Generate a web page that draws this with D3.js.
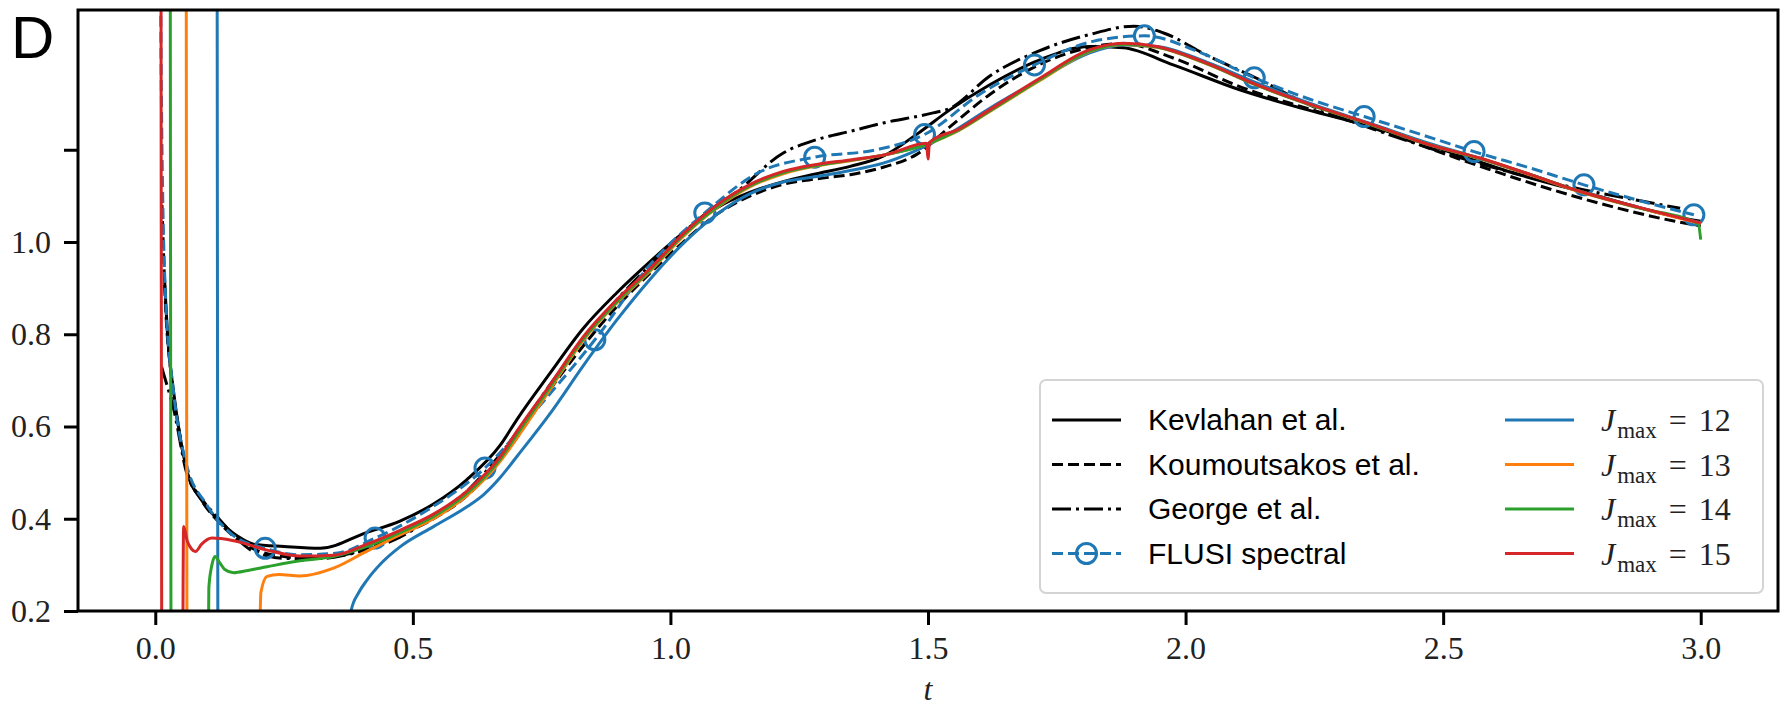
<!DOCTYPE html>
<html>
<head>
<meta charset="utf-8">
<script src="https://cdn.jsdelivr.net/npm/d3@7/dist/d3.min.js"></script>
<style>
  body { margin: 0; background: #fff; }
  svg { display: block; }
</style>
</head>
<body>
<svg id="chart"></svg>
<script>
var width = 1781,
    height = 707;

// reference curves (t, value)
var kevlahan = [[0.018, 0.92], [0.025, 0.78], [0.035, 0.68], [0.045, 0.6], [0.061, 0.506], [0.090, 0.44], [0.126, 0.394], [0.160, 0.362], [0.191, 0.345], [0.250, 0.340], [0.320, 0.336], [0.410, 0.37], [0.475, 0.395], [0.540, 0.432], [0.605, 0.485], [0.670, 0.56], [0.702, 0.615], [0.766, 0.715], [0.831, 0.813], [0.896, 0.89], [0.961, 0.958], [1.025, 1.02], [1.090, 1.074], [1.155, 1.108], [1.219, 1.131], [1.284, 1.148], [1.349, 1.164], [1.413, 1.186], [1.480, 1.235], [1.543, 1.287], [1.620, 1.341], [1.717, 1.395], [1.814, 1.424], [1.879, 1.421], [1.976, 1.384], [2.105, 1.33], [2.235, 1.287], [2.364, 1.249], [2.526, 1.19], [2.650, 1.145], [2.800, 1.1], [2.950, 1.055], [3.000, 1.045]];

var koumoutsakos = [[0.013, 1.08], [0.020, 0.86], [0.030, 0.72], [0.045, 0.6], [0.060, 0.51], [0.090, 0.44], [0.126, 0.39], [0.160, 0.355], [0.200, 0.33], [0.250, 0.318], [0.300, 0.314], [0.350, 0.318], [0.411, 0.336], [0.475, 0.365], [0.540, 0.4], [0.605, 0.45], [0.670, 0.528], [0.766, 0.68], [0.831, 0.775], [0.896, 0.86], [0.961, 0.933], [1.025, 1.0], [1.090, 1.06], [1.155, 1.1], [1.219, 1.125], [1.284, 1.137], [1.349, 1.146], [1.413, 1.162], [1.478, 1.19], [1.543, 1.25], [1.620, 1.32], [1.717, 1.385], [1.814, 1.422], [1.879, 1.43], [1.976, 1.399], [2.105, 1.337], [2.235, 1.29], [2.364, 1.247], [2.526, 1.182], [2.650, 1.135], [2.800, 1.085], [2.950, 1.045], [3.000, 1.035]];

var george = [[0.012, 0.73], [0.020, 0.7], [0.036, 0.636], [0.061, 0.499], [0.087, 0.448], [0.126, 0.397], [0.160, 0.355], [0.191, 0.329], [0.256, 0.314], [0.320, 0.314], [0.400, 0.33], [0.475, 0.36], [0.540, 0.405], [0.605, 0.46], [0.670, 0.54], [0.766, 0.69], [0.831, 0.79], [0.896, 0.875], [0.961, 0.95], [1.025, 1.02], [1.090, 1.08], [1.123, 1.104], [1.219, 1.193], [1.284, 1.222], [1.349, 1.24], [1.413, 1.258], [1.510, 1.28], [1.543, 1.29], [1.620, 1.36], [1.717, 1.415], [1.814, 1.45], [1.900, 1.468], [1.960, 1.452], [2.041, 1.405], [2.138, 1.355], [2.235, 1.3], [2.364, 1.245], [2.470, 1.205], [2.571, 1.17], [2.670, 1.14], [2.765, 1.115], [2.880, 1.09], [2.960, 1.073]];

// third entry = 1 where a circle marker sits
var flusi = [[0.0, 6.0, 1], [0.012, 1.3], [0.020, 0.88], [0.035, 0.68], [0.060, 0.52], [0.100, 0.43], [0.150, 0.365], [0.2133, 0.336, 1], [0.280, 0.322], [0.350, 0.325], [0.4267, 0.358, 1], [0.530, 0.42], [0.640, 0.51, 1], [0.750, 0.65], [0.8533, 0.788, 1], [0.960, 0.95], [1.0667, 1.063, 1], [1.170, 1.15], [1.280, 1.184, 1], [1.400, 1.20], [1.4933, 1.233, 1], [1.600, 1.32], [1.7067, 1.384, 1], [1.820, 1.435], [1.920, 1.447, 1], [2.030, 1.41], [2.1333, 1.356, 1], [2.240, 1.31], [2.3467, 1.272, 1], [2.460, 1.232], [2.560, 1.196, 1], [2.670, 1.16], [2.7733, 1.124, 1], [2.880, 1.09], [2.9867, 1.059, 1]];

var jmax12 = [[0.119, 3.0], [0.123, -0.5], [0.373, -0.5], [0.380, 0.2], [0.395, 0.24], [0.411, 0.267], [0.440, 0.305], [0.475, 0.339], [0.540, 0.383], [0.605, 0.426], [0.637, 0.452], [0.670, 0.49], [0.702, 0.535], [0.767, 0.629], [0.831, 0.732], [0.896, 0.831], [0.961, 0.92], [1.025, 0.997], [1.090, 1.06], [1.155, 1.105], [1.219, 1.13], [1.284, 1.142], [1.349, 1.155], [1.413, 1.171], [1.470, 1.195], [1.543, 1.236], [1.620, 1.29], [1.717, 1.352], [1.814, 1.41], [1.879, 1.427], [1.944, 1.424], [2.041, 1.39], [2.138, 1.345], [2.235, 1.303], [2.364, 1.255], [2.470, 1.215], [2.571, 1.182], [2.670, 1.146], [2.765, 1.11], [2.880, 1.075], [3.000, 1.042]];

var jmax13 = [[0.059, 3.0], [0.063, -0.5], [0.195, -0.5], [0.205, 0.24], [0.217, 0.275], [0.240, 0.279], [0.281, 0.276], [0.346, 0.293], [0.411, 0.33], [0.475, 0.365], [0.540, 0.40], [0.605, 0.45], [0.670, 0.525], [0.702, 0.575], [0.766, 0.68], [0.831, 0.787], [0.896, 0.868], [0.961, 0.937], [1.025, 1.012], [1.090, 1.074], [1.155, 1.12], [1.219, 1.148], [1.284, 1.165], [1.349, 1.176], [1.420, 1.19], [1.497, 1.212], [1.560, 1.242], [1.620, 1.283], [1.717, 1.35], [1.814, 1.413], [1.879, 1.428], [1.944, 1.422], [2.041, 1.386], [2.138, 1.34], [2.235, 1.3], [2.364, 1.253], [2.470, 1.212], [2.571, 1.181], [2.670, 1.145], [2.765, 1.109], [2.880, 1.074], [3.000, 1.04]];

var jmax14 = [[0.028, 3.0], [0.032, -0.5], [0.098, -0.5], [0.104, 0.25], [0.110, 0.3], [0.116, 0.318], [0.125, 0.305], [0.135, 0.29], [0.152, 0.283], [0.180, 0.288], [0.217, 0.296], [0.281, 0.309], [0.346, 0.318], [0.411, 0.34], [0.475, 0.37], [0.540, 0.405], [0.605, 0.455], [0.670, 0.53], [0.702, 0.583], [0.766, 0.685], [0.831, 0.79], [0.896, 0.87], [0.961, 0.94], [1.025, 1.015], [1.090, 1.076], [1.155, 1.122], [1.219, 1.15], [1.284, 1.166], [1.349, 1.177], [1.420, 1.19], [1.497, 1.212], [1.560, 1.243], [1.620, 1.284], [1.717, 1.352], [1.814, 1.414], [1.879, 1.429], [1.944, 1.423], [2.041, 1.387], [2.138, 1.34], [2.235, 1.3], [2.364, 1.253], [2.470, 1.212], [2.571, 1.181], [2.670, 1.146], [2.765, 1.11], [2.880, 1.074], [2.995, 1.04], [3.000, 1.005]];

var jmax15 = [[0.010, 3.0], [0.014, -0.5], [0.051, -0.5], [0.055, 0.383], [0.062, 0.352], [0.070, 0.335], [0.078, 0.329], [0.090, 0.345], [0.110, 0.358], [0.150, 0.353], [0.217, 0.332], [0.281, 0.319], [0.346, 0.321], [0.411, 0.345], [0.475, 0.375], [0.540, 0.41], [0.605, 0.46], [0.670, 0.535], [0.702, 0.59], [0.766, 0.69], [0.831, 0.795], [0.896, 0.875], [0.961, 0.943], [1.025, 1.018], [1.090, 1.08], [1.155, 1.125], [1.219, 1.153], [1.284, 1.168], [1.349, 1.178], [1.420, 1.19], [1.497, 1.214], [1.500, 1.18], [1.503, 1.216], [1.560, 1.245], [1.620, 1.287], [1.717, 1.355], [1.814, 1.417], [1.879, 1.431], [1.944, 1.424], [2.041, 1.388], [2.138, 1.341], [2.235, 1.301], [2.364, 1.254], [2.470, 1.212], [2.571, 1.182], [2.670, 1.146], [2.765, 1.11], [2.880, 1.075], [3.000, 1.041]];

var xTicks = [0.0, 0.5, 1.0, 1.5, 2.0, 2.5, 3.0];
var yTicks = [0.2, 0.4, 0.6, 0.8, 1.0, 1.2];
var yTickLabels = ['0.2', '0.4', '0.6', '0.8', '1.0', ''];
var labelsLeft = ['Kevlahan et al.', 'Koumoutsakos et al.', 'George et al.', 'FLUSI spectral'];
var labelsRight = ['12', '13', '14', '15'];

var series = [
    { data: kevlahan, color: '#000', dash: null },
    { data: koumoutsakos, color: '#000', dash: '11,5' },
    { data: george, color: '#000', dash: '19,5,3,5' },
    { data: flusi, color: '#1f77b4', dash: '11,5', markers: true },
    { data: jmax12, color: '#1f77b4', dash: null },
    { data: jmax13, color: '#ff7f0e', dash: null },
    { data: jmax14, color: '#2ca02c', dash: null },
    { data: jmax15, color: '#d62728', dash: null }
];

var plot = { left: 78, right: 1778, top: 10, bottom: 611 };

var x = d3.scaleLinear().domain([-0.15, 3.15]).range([plot.left, plot.right]);
var y = d3.scaleLinear().domain([0.2, 1.503]).range([plot.bottom, plot.top]);

var svg = d3.select('#chart')
    .attr('width', width)
    .attr('height', height)
    .style('font-family', 'Liberation Serif, serif');

svg.append('rect').attr('width', width).attr('height', height).attr('fill', '#fff');

svg.append('clipPath').attr('id', 'clip')
    .append('rect')
    .attr('x', plot.left).attr('y', plot.top)
    .attr('width', plot.right - plot.left).attr('height', plot.bottom - plot.top);

var line = d3.line()
    .x(function(d) { return x(d[0]); })
    .y(function(d) { return y(d[1]); })
    .curve(d3.curveMonotoneX);

var lines = svg.append('g').attr('clip-path', 'url(#clip)');

series.forEach(function(s) {
    lines.append('path')
        .datum(s.data)
        .attr('d', line)
        .attr('fill', 'none')
        .attr('stroke', s.color)
        .attr('stroke-width', 3)
        .attr('stroke-dasharray', s.dash);

    if (s.markers) {
        lines.selectAll(null)
            .data(s.data.filter(function(d) { return d[2]; }))
            .enter().append('circle')
            .attr('cx', function(d) { return x(d[0]); })
            .attr('cy', function(d) { return y(d[1]); })
            .attr('r', 10)
            .attr('fill', 'none')
            .attr('stroke', s.color)
            .attr('stroke-width', 3);
    }
});

// axes
var xAxis = d3.axisBottom(x)
    .tickValues(xTicks)
    .tickSize(14)
    .tickPadding(11)
    .tickFormat(d3.format('.1f'));

var yAxis = d3.axisLeft(y)
    .tickValues(yTicks)
    .tickSize(14)
    .tickPadding(13)
    .tickFormat(function(d, i) { return yTickLabels[i]; });

svg.append('g')
    .attr('transform', 'translate(0,' + plot.bottom + ')')
    .call(xAxis);

svg.append('g')
    .attr('transform', 'translate(' + plot.left + ',0)')
    .call(yAxis);

svg.selectAll('.domain').remove();
svg.selectAll('.tick line').attr('stroke', '#000').attr('stroke-width', 3);
svg.selectAll('.tick text')
    .attr('fill', '#222')
    .style('font-family', 'Liberation Serif, serif')
    .style('font-size', '32px');

// frame
svg.append('rect')
    .attr('x', plot.left).attr('y', plot.top)
    .attr('width', plot.right - plot.left).attr('height', plot.bottom - plot.top)
    .attr('fill', 'none')
    .attr('stroke', '#000')
    .attr('stroke-width', 3);

// axis label
svg.append('text')
    .attr('x', x(1.5))
    .attr('y', 700)
    .attr('text-anchor', 'middle')
    .style('font-style', 'italic')
    .style('font-size', '32px')
    .attr('fill', '#222')
    .text('t');

// panel letter
svg.append('text')
    .attr('x', 11)
    .attr('y', 58)
    .style('font-family', 'Liberation Sans, Arial, sans-serif')
    .style('font-size', '60px')
    .attr('fill', '#000')
    .text('D');

// legend
var legend = svg.append('g');
legend.append('rect')
    .attr('x', 1040).attr('y', 380)
    .attr('width', 723).attr('height', 213)
    .attr('rx', 6)
    .attr('fill', '#fff')
    .attr('fill-opacity', 0.8)
    .attr('stroke', '#d4d4d4')
    .attr('stroke-width', 2);

var rowY = [420, 464.5, 509, 553.5];

series.forEach(function(s, i) {
    var col = i < 4 ? 0 : 1,
        row = i % 4,
        hx0 = col === 0 ? 1052 : 1505,
        hx1 = hx0 + 69,
        cy = rowY[row];

    legend.append('line')
        .attr('x1', hx0).attr('x2', hx1)
        .attr('y1', cy).attr('y2', cy)
        .attr('stroke', s.color)
        .attr('stroke-width', 3)
        .attr('stroke-dasharray', s.dash);

    if (s.markers) {
        legend.append('circle')
            .attr('cx', (hx0 + hx1) / 2).attr('cy', cy)
            .attr('r', 10)
            .attr('fill', 'none')
            .attr('stroke', s.color)
            .attr('stroke-width', 3);
    }

    if (col === 0) {
        legend.append('text')
            .attr('x', 1148)
            .attr('y', cy + 10)
            .style('font-family', 'Liberation Sans, Arial, sans-serif')
            .style('font-size', '30px')
            .attr('fill', '#000')
            .text(labelsLeft[row]);
    } else {
        var t = legend.append('text')
            .attr('x', 1601)
            .attr('y', cy + 11)
            .style('font-family', 'Liberation Serif, serif')
            .style('font-size', '32px')
            .attr('fill', '#222');
        t.append('tspan').style('font-style', 'italic').text('J');
        t.append('tspan').attr('dx', 2).attr('dy', 7).style('font-size', '23px').text('max');
        t.append('tspan').attr('dx', 12).attr('dy', -7).text('=');
        t.append('tspan').attr('dx', 12).text(labelsRight[row]);
    }
});
</script>
</body>
</html>
